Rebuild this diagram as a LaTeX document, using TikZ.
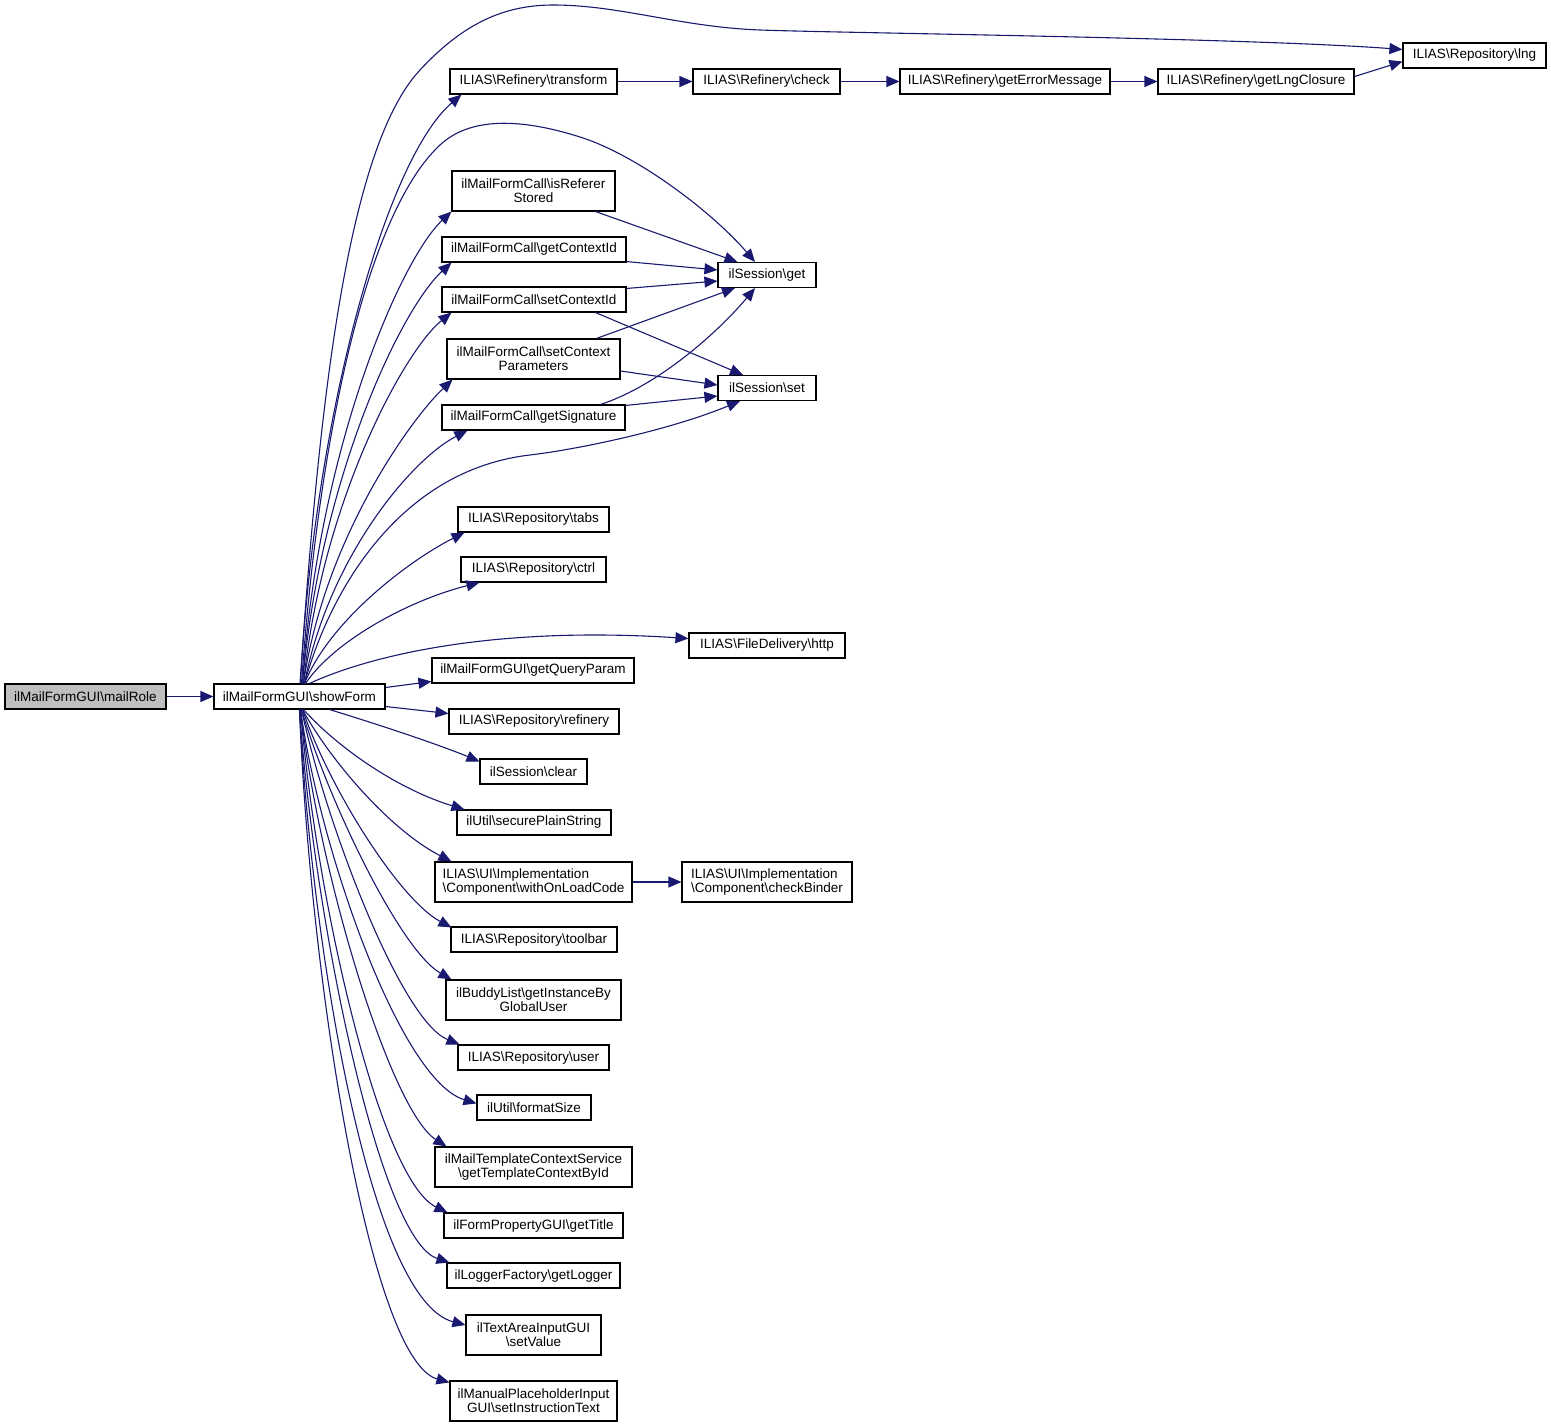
\documentclass[tikz,border=0pt]{standalone}
\usepackage{fontspec}
\setmainfont{Liberation Sans}
\usetikzlibrary{arrows.meta}
\definecolor{edgeblue}{HTML}{191970}
\definecolor{rootgray}{HTML}{BFBFBF}
\newcommand{\bsl}{\textbackslash}
\tikzset{
  fn/.style={draw=black, line width=1.1pt, inner sep=0pt, minimum height=25pt,
    font=\fontsize{13.5}{14}\selectfont, align=center},
  fntwo/.style={fn, minimum height=40pt},
  call/.style={draw=edgeblue, line width=1.1pt, -{Triangle[length=13pt,width=11pt]}},
}
\begin{document}
\begin{tikzpicture}[x=1pt,y=-1pt]
\useasboundingbox[fill=white] (0,0) rectangle (1551,1427);
% left column
\node[fn, fill=rootgray, minimum width=161pt] (mailRole) at (85.5,696.5) {ilMailFormGUI\bsl mailRole};
\node[fn, minimum width=171pt] (showForm) at (299.5,696.5) {ilMailFormGUI\bsl showForm};
% callees of showForm
\node[fn, minimum width=167pt] (transform) at (533.5,81.5) {ILIAS\bsl Refinery\bsl transform};
\node[fntwo, minimum width=163pt] (isReferer) at (533.5,191) {ilMailFormCall\bsl isReferer\\Stored};
\node[fn, minimum width=184pt] (getCtxId) at (534,249.5) {ilMailFormCall\bsl getContextId};
\node[fn, minimum width=184pt] (setCtxId) at (534,299.5) {ilMailFormCall\bsl setContextId};
\node[fntwo, minimum width=173pt] (setCtxParams) at (533.5,359) {ilMailFormCall\bsl setContext\\Parameters};
\node[fn, minimum width=183pt] (getSignature) at (533.5,417.5) {ilMailFormCall\bsl getSignature};
\node[fn, minimum width=151pt] (tabs) at (533.5,519.5) {ILIAS\bsl Repository\bsl tabs};
\node[fn, minimum width=145pt] (ctrl) at (533.5,569.5) {ILIAS\bsl Repository\bsl ctrl};
\node[fn, minimum width=202pt] (getQueryParam) at (533,670.5) {ilMailFormGUI\bsl getQueryParam};
\node[fn, minimum width=170pt] (refinery) at (534,721.5) {ILIAS\bsl Repository\bsl refinery};
\node[fn, minimum width=107pt] (clear) at (533.5,771.5) {ilSession\bsl clear};
\node[fn, minimum width=154pt] (securePS) at (534,822.5) {ilUtil\bsl securePlainString};
\node[fntwo, minimum width=197pt, align=left] (withOnLoad) at (533.5,882) {ILIAS\bsl UI\bsl Implementation\\\bsl Component\bsl withOnLoadCode};
\node[fn, minimum width=166pt] (toolbar) at (534,939.5) {ILIAS\bsl Repository\bsl toolbar};
\node[fntwo, minimum width=175pt] (buddy) at (533.5,1000) {ilBuddyList\bsl getInstanceBy\\GlobalUser};
\node[fn, minimum width=151pt] (user) at (533.5,1057.5) {ILIAS\bsl Repository\bsl user};
\node[fn, minimum width=114pt] (formatSize) at (534,1107.5) {ilUtil\bsl formatSize};
\node[fntwo, minimum width=197pt] (tmplCtx) at (533.5,1167) {ilMailTemplateContextService\\\bsl getTemplateContextById};
\node[fn, minimum width=179pt] (getTitle) at (533.5,1225.5) {ilFormPropertyGUI\bsl getTitle};
\node[fn, minimum width=173pt] (getLogger) at (533.5,1275.5) {ilLoggerFactory\bsl getLogger};
\node[fntwo, minimum width=135pt] (setValue) at (533.5,1335) {ilTextAreaInputGUI\\\bsl setValue};
\node[fntwo, minimum width=167pt] (setInstr) at (533.5,1401) {ilManualPlaceholderInput\\GUI\bsl setInstructionText};
% further callees
\node[fn, minimum width=147pt] (check) at (766.5,81.5) {ILIAS\bsl Refinery\bsl check};
\node[fn, minimum width=210pt] (getErrorMsg) at (1005,81.5) {ILIAS\bsl Refinery\bsl getErrorMessage};
\node[fn, minimum width=196pt] (getLngClosure) at (1256,81.5) {ILIAS\bsl Refinery\bsl getLngClosure};
\node[fn, minimum width=143pt] (lng) at (1474.5,55.5) {ILIAS\bsl Repository\bsl lng};
\node[fn, minimum width=98pt] (get) at (767,275) {ilSession\bsl get};
\node[fn, minimum width=98pt] (set) at (767,388) {ilSession\bsl set};
\node[fn, minimum width=156pt] (http) at (767,645.5) {ILIAS\bsl FileDelivery\bsl http};
\node[fntwo, minimum width=170pt, align=left] (checkBinder) at (767,882) {ILIAS\bsl UI\bsl Implementation\\\bsl Component\bsl checkBinder};
% straight calls
\draw[call] (mailRole) -- (showForm);
\draw[call] (transform) -- (check);
\draw[call] (check) -- (getErrorMsg);
\draw[call] (getErrorMsg) -- (getLngClosure);
\draw[call] ([yshift=5pt]getLngClosure.east) -- ([yshift=-6pt]lng.west);
\draw[call] (withOnLoad) -- (checkBinder);
\draw[call] ([yshift=9pt]showForm.east) -- ([yshift=-11pt]getQueryParam.west);
\draw[call] ([yshift=-10pt]showForm.east) -- ([yshift=8pt]refinery.west);
% upward fan
\draw[call] ([xshift=0.5pt]showForm.north) .. controls (318,420) and (345,150) .. (420,70)
  .. controls (460,27) and (500,5) .. (553,5) .. controls (620,5) and (680,27) .. (760,30)
  .. controls (840,33) and (1250,38) .. ([yshift=6pt]lng.west);
\draw[call] ([xshift=1pt]showForm.north) .. controls (314,420) and (385,160) .. ([xshift=12pt]transform.south west);
\draw[call] ([xshift=2pt]showForm.north) .. controls (320,420) and (370,210) .. (440,145)
  .. controls (470,117) and (520,118) .. (580,137) .. controls (640,156) and (715,215) .. ([xshift=-12pt]get.north);
\draw[call] ([xshift=3pt]showForm.north) .. controls (318,450) and (400,260) .. (isReferer.south west);
\draw[call] ([xshift=3pt]showForm.north) .. controls (320,480) and (400,310) .. ([xshift=10pt]getCtxId.south west);
\draw[call] ([xshift=4pt]showForm.north) .. controls (322,500) and (405,350) .. ([xshift=10pt]setCtxId.south west);
\draw[call] ([xshift=4pt]showForm.north) .. controls (324,540) and (410,420) .. ([xshift=6pt]setCtxParams.south west);
\draw[call] ([xshift=5pt]showForm.north) .. controls (328,560) and (410,460) .. ([xshift=26pt]getSignature.south west);
\draw[call] ([xshift=5pt]showForm.north) .. controls (330,590) and (400,470) .. (530,455)
  .. controls (580,449) and (670,430) .. ([xshift=-27pt]set.south);
\draw[call] ([xshift=5pt]showForm.north) .. controls (330,620) and (410,560) .. ([xshift=7pt]tabs.south west);
\draw[call] ([xshift=6pt]showForm.north) .. controls (335,640) and (410,600) .. ([xshift=19pt]ctrl.south west);
\draw[call] ([xshift=10pt]showForm.north) .. controls (360,660) and (480,625) .. ([yshift=7pt]http.west);
% downward fan
\draw[call] ([xshift=30pt]showForm.south) .. controls (380,725) and (440,745) .. ([yshift=10pt]clear.west);
\draw[call] ([xshift=4pt]showForm.south) .. controls (340,750) and (400,790) .. ([xshift=8pt]securePS.north west);
\draw[call] ([xshift=3pt]showForm.south) .. controls (330,760) and (390,830) .. ([xshift=17pt]withOnLoad.north west);
\draw[call] ([xshift=3pt]showForm.south) .. controls (330,790) and (400,900) .. ([xshift=1pt,yshift=-1pt]toolbar.north west);
\draw[call] ([xshift=2pt]showForm.south) .. controls (328,800) and (400,950) .. ([xshift=6pt]buddy.north west);
\draw[call] ([xshift=2pt]showForm.south) .. controls (325,820) and (400,1020) .. ([xshift=2pt]user.north west);
\draw[call] ([xshift=1pt]showForm.south) .. controls (320,850) and (400,1080) .. ([yshift=4pt]formatSize.west);
\draw[call] ([xshift=1pt]showForm.south) .. controls (318,870) and (390,1110) .. ([xshift=12pt]tmplCtx.north west);
\draw[call] ([xshift=1pt]showForm.south) .. controls (316,900) and (380,1180) .. ([xshift=4pt]getTitle.north west);
\draw[call] (showForm.south) .. controls (314,920) and (380,1240) .. ([xshift=3pt]getLogger.north west);
\draw[call] (showForm.south) .. controls (312,950) and (370,1300) .. ([yshift=10pt]setValue.west);
\draw[call] (showForm.south) .. controls (310,980) and (370,1360) .. ([yshift=-2pt]setInstr.north west);
% session calls
\draw[call] ([xshift=-20pt]isReferer.south east) -- ([xshift=20pt]get.north west);
\draw[call] ([yshift=1pt]getCtxId.south east) -- ([yshift=5pt]get.west);
\draw[call] ([yshift=-2pt]setCtxId.north east) -- ([yshift=-6pt]get.west);
\draw[call] ([xshift=-31pt]setCtxId.south east) -- ([xshift=-24pt]set.north);
\draw[call] ([xshift=63pt]setCtxParams.north) -- ([xshift=-32pt]get.south);
\draw[call] ([yshift=-12pt]setCtxParams.east) -- ([yshift=3pt]set.west);
\draw[call] ([xshift=-25pt]getSignature.north east) .. controls (660,385) and (720,330) .. ([xshift=-12pt]get.south);
\draw[call] ([yshift=-1pt]getSignature.north east) -- ([yshift=-8pt]set.west);
\end{tikzpicture}
\end{document}
